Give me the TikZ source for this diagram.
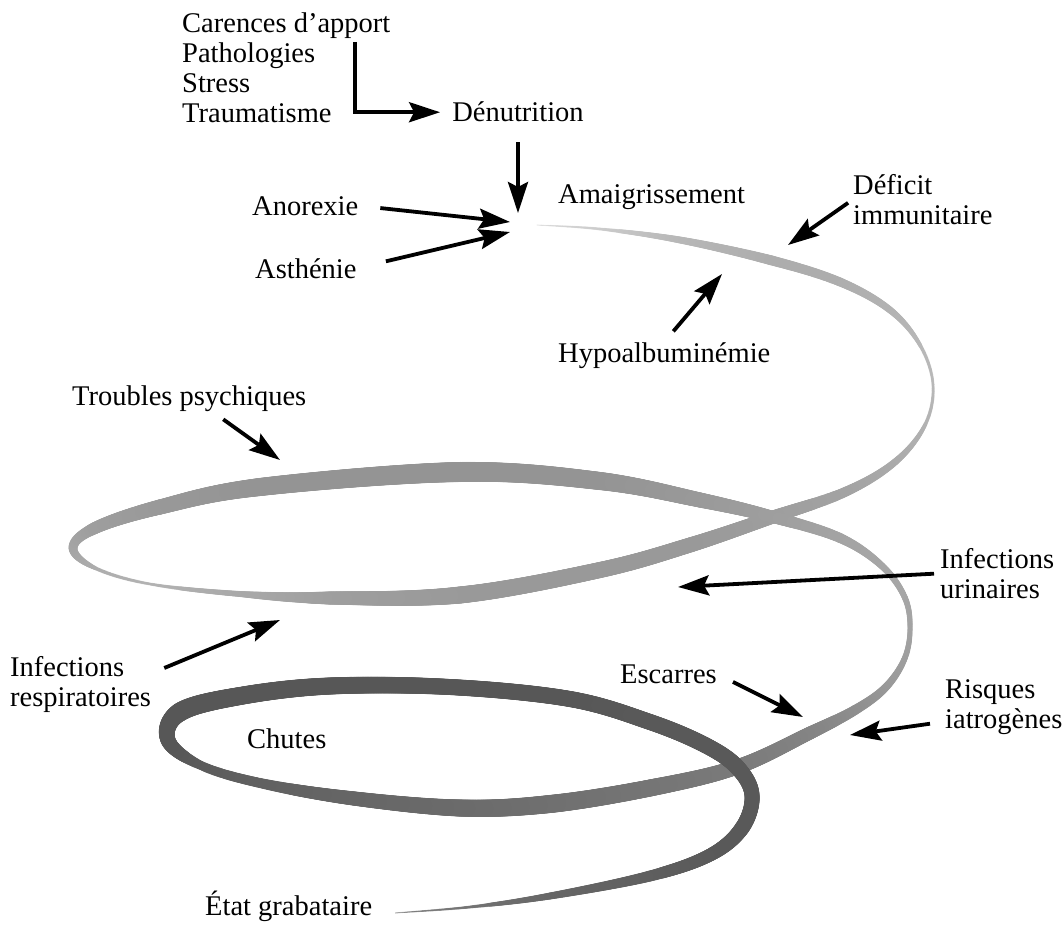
\documentclass[tikz,border=0pt]{standalone}
\usepackage{fontspec}
\setmainfont{Liberation Serif}
\usetikzlibrary{calc,arrows.meta,decorations.markings}
\tikzset{
  lbl/.style={inner sep=0pt, font=\fontsize{28.5}{30}\selectfont, align=left},
  arr/.style={line width=3.8pt, -{Stealth[length=31pt,width=20pt,inset=5pt]}},
  band/.style n args={4}{postaction={decorate, decoration={markings,
     mark=between positions 0 and 1 step 0.9pt with {%
       \pgfmathsetmacro\bandf{\pgfkeysvalueof{/pgf/decoration/mark info/distance from start}/\pgfdecoratedpathlength}%
       \pgfmathsetmacro\bandr{max(0.45,(#1+(#2-#1)*\bandf)/2)}%
       \pgfmathsetmacro\bandg{#3+(#4-#3)*\bandf}%
       \fill[black!\bandg] (0,0) circle[radius=\bandr pt];
     }}}}
}
\begin{document}
\begin{tikzpicture}[x=1pt,y=-1pt]
\useasboundingbox (0,0) rectangle (1064,928);
% spiral band
\foreach \px/\py/\pw/\pg [count=\i] in {
 537/225/1/15, 600/229/3/20, 680/240/7/28, 770/260/10/32, 840/282/9/32,
 890/310/7/30, 920/345/4/28, 933/385/3/28, 925/425/4/30, 895/462/7/33,
 845/492/10/36, 773/517/13/38, 690/545/15/40, 600/570/16/40, 460/595/17/40,
 330/598/13/38, 240/594/6/34, 150/584/3/30, 95/568/4/32, 73/548/9/35,
 95/528/12/38, 160/507/15/40, 260/487/18/42, 460/472/20/42, 600/481/18/42,
 700/500/15/40, 773/517/12/38, 840/538/10/36, 882/566/7/35, 905/598/6/35,
 910/630/5/36, 904/660/6/38, 885/688/8/40, 855/710/10/44, 810/733/13/48,
 737/767/15/52, 650/788/17/54, 550/804/18/56, 460/808/17/58, 350/798/14/60,
 260/783/10/62, 200/765/9/64, 168/740/15/66, 180/712/19/66, 240/696/18/66,
 330/686/17/66, 450/687/16/66, 570/699/16/66, 650/722/16/65, 705/745/16/65,
 737/767/16/65, 752/795/15/65, 742/828/15/65, 710/855/13/65, 650/876/11/63,
 550/896/7/60, 470/907/3/55, 395/913/1/50}{%
  \coordinate (s\i) at (\px,\py);
  \expandafter\xdef\csname spw\i\endcsname{\pw}%
  \expandafter\xdef\csname spg\i\endcsname{\pg}%
}
\coordinate (s0) at (s1);
\coordinate (s59) at (s58);
\foreach \i in {1,...,57}{%
  \pgfmathtruncatemacro\ip{\i+1}%
  \pgfmathtruncatemacro\im{\i-1}%
  \pgfmathtruncatemacro\ipp{\i+2}%
  \edef\wa{\csname spw\i\endcsname}\edef\wb{\csname spw\ip\endcsname}%
  \edef\ga{\csname spg\i\endcsname}\edef\gb{\csname spg\ip\endcsname}%
  \path[band={\wa}{\wb}{\ga}{\gb}] (s\i) .. controls ($(s\i)+0.1667*(s\ip)-0.1667*(s\im)$) and ($(s\ip)-0.1667*(s\ipp)+0.1667*(s\i)$) .. (s\ip);
}
% labels
\node[lbl, anchor=north west] (causes) at (182,13) {Carences d'apport\\Pathologies\\Stress\\Traumatisme};
\node[lbl, anchor=base] (denut) at (518,122) {Dénutrition};
\node[lbl, anchor=base west] (amaig) at (558,203) {Amaigrissement};
\node[lbl, anchor=base west] (anor) at (252,215) {Anorexie};
\node[lbl, anchor=base west] (asth) at (255,278) {Asthénie};
\node[lbl, anchor=north west] (deficit) at (853,174) {Déficit\\immunitaire};
\node[lbl, anchor=base west] (hypo) at (558,362) {Hypoalbuminémie};
\node[lbl, anchor=base west] (troub) at (72,405) {Troubles psychiques};
\node[lbl, anchor=north west] (infu) at (940,548) {Infections\\urinaires};
\node[lbl, anchor=north west] (infr) at (10,656) {Infections\\respiratoires};
\node[lbl, anchor=base west] (escar) at (620,683) {Escarres};
\node[lbl, anchor=north west] (risq) at (945,679) {Risques\\iatrogènes};
\node[lbl, anchor=base west] (chutes) at (247,748) {Chutes};
\node[lbl, anchor=base west] (etat) at (205,915) {État grabataire};
% arrow targets
\coordinate (brk) at (355,42);
\coordinate (tDen) at (518,213);
\coordinate (tAno) at (510,222);
\coordinate (tAst) at (510,232);
\coordinate (tDef) at (788,245);
\coordinate (tHyp) at (722,274);
\coordinate (tTro) at (280,460);
\coordinate (tInu) at (678,587);
\coordinate (tInr) at (280,620);
\coordinate (tEsc) at (803,717);
\coordinate (tRis) at (850,735);
% arrows
\draw[arr, shorten >=12pt] (brk) |- (denut.west);
\draw[arr, shorten <=20pt] (denut.south -| tDen) -- (tDen);
\draw[arr, shorten <=22pt] (anor.east) -- (tAno);
\draw[arr, shorten <=30pt] (asth.east) -- (tAst);
\draw[arr, shorten <=6pt] (deficit.west) -- (tDef);
\draw[arr, shorten <=14pt] (hypo.north) -- (tHyp);
\draw[arr] ($(troub.south)+(34,8)$) -- (tTro);
\draw[arr, shorten <=6pt] (infu.west) -- (tInu);
\draw[arr] ($(infr.north east)+(13,12)$) -- (tInr);
\draw[arr, shorten <=18pt] (escar.east) -- (tEsc);
\draw[arr] ($(risq.west)+(-15,17)$) -- (tRis);
\end{tikzpicture}
\end{document}
